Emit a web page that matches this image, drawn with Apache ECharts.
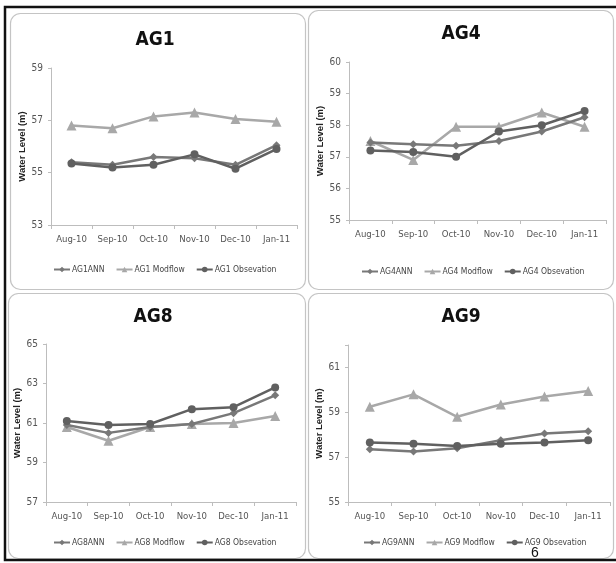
<!DOCTYPE html>
<html><head><meta charset="utf-8">
<script src="https://cdn.jsdelivr.net/npm/echarts@6/dist/echarts.min.js"></script>
<style>html,body{margin:0;padding:0;background:#fff}#c{width:616px;height:563px}</style>
</head><body><div id="c"></div>
<script>
const months = ['Aug-10','Sep-10','Oct-10','Nov-10','Dec-10','Jan-11'];

const ag1ANN = [55.4, 55.3, 55.6, 55.55, 55.3, 56.05];
const ag1Modflow = [56.8, 56.7, 57.15, 57.3, 57.05, 56.95];
const ag1Obs = [55.35, 55.2, 55.3, 55.7, 55.15, 55.9];

const ag4ANN = [57.45, 57.4, 57.35, 57.5, 57.8, 58.25];
const ag4Modflow = [57.5, 56.9, 57.95, 57.95, 58.4, 57.95];
const ag4Obs = [57.2, 57.15, 57.0, 57.8, 58.0, 58.45];

const ag8ANN = [60.9, 60.5, 60.8, 60.95, 61.5, 62.4];
const ag8Modflow = [60.8, 60.1, 60.8, 60.95, 61.0, 61.35];
const ag8Obs = [61.1, 60.9, 60.95, 61.7, 61.8, 62.8];

const ag9ANN = [57.35, 57.25, 57.4, 57.75, 58.05, 58.15];
const ag9Modflow = [59.25, 59.8, 58.8, 59.35, 59.7, 59.95];
const ag9Obs = [57.65, 57.6, 57.5, 57.6, 57.65, 57.75];

const panels = [
  {name:'AG1', ann:ag1ANN, mod:ag1Modflow, obs:ag1Obs, min:53, max:59, interval:2, hideMax:false,
   grid:{left:51, top:68, width:246, height:157}, title:[155,31], legend:[53,265]},
  {name:'AG4', ann:ag4ANN, mod:ag4Modflow, obs:ag4Obs, min:55, max:60, interval:1, hideMax:false,
   grid:{left:349, top:62, width:257, height:158}, title:[461,25], legend:[361,267]},
  {name:'AG8', ann:ag8ANN, mod:ag8Modflow, obs:ag8Obs, min:57, max:65, interval:2, hideMax:false,
   grid:{left:46, top:344, width:250, height:158}, title:[153,308], legend:[53,538]},
  {name:'AG9', ann:ag9ANN, mod:ag9Modflow, obs:ag9Obs, min:55, max:62, interval:2, hideMax:true,
   grid:{left:348, top:345, width:262, height:157}, title:[461,308], legend:[363,538]}
];

const FONT = '"DejaVu Sans Condensed", "Liberation Sans", Arial, sans-serif';
const cANN = '#787878', cMod = '#a8a8a8', cObs = '#606060';

const option = {
  animation:false,
  backgroundColor:'#fff',
  title:[], grid:[], xAxis:[], yAxis:[], legend:[], series:[],
  graphic:[]
};

option.graphic.push({type:'polyline', shape:{points:[[616,7],[5,7],[5,560],[616,560]]},
  style:{stroke:'#111', lineWidth:2.5, fill:null}, z:10});
[[10,13,295,276],[308,10,305,279],[8,293,297,265],[308,293,305,265]].forEach(b=>{
  option.graphic.push({type:'rect', shape:{x:b[0]+0.5,y:b[1]+0.5,width:b[2],height:b[3],r:10},
    style:{stroke:'#c4c4c4', lineWidth:1.2, fill:null}, z:1});
});
option.graphic.push({type:'text', left:531, top:546, style:{text:'6', font:'14px "Liberation Sans", Arial', fill:'#111'}, z:5});

panels.forEach((p,i)=>{
  option.title.push({text:p.name, left:p.title[0], top:p.title[1], textAlign:'center', padding:0,
    textStyle:{fontFamily:FONT, fontWeight:'bold', fontSize:19, color:'#111'}});
  option.grid.push(Object.assign({containLabel:false}, p.grid));
  option.xAxis.push({type:'category', gridIndex:i, data:months, boundaryGap:true,
    axisLine:{lineStyle:{color:'#bdbdbd', width:1}},
    axisTick:{show:true, length:4, lineStyle:{color:'#bdbdbd'}},
    axisLabel:{interval:0, fontFamily:FONT, fontSize:9.5, color:'#555', margin:10}});
  option.yAxis.push({type:'value', gridIndex:i, min:p.min, max:p.max, interval:p.interval,
    name:'Water Level (m)', nameLocation:'middle', nameGap:23, nameRotate:90,
    nameTextStyle:{fontFamily:'"Liberation Sans", Arial, sans-serif', fontWeight:'bold', fontSize:9.5, color:'#222'},
    axisLine:{show:true, lineStyle:{color:'#bdbdbd', width:1}},
    axisTick:{show:true, length:3, lineStyle:{color:'#bdbdbd'}},
    splitLine:{show:false},
    axisLabel:{fontFamily:FONT, fontSize:10, color:'#555', margin:8,
      formatter: v => (p.hideMax && v===p.max) ? '' : v}});
  const nANN = p.name + 'ANN', nMod = p.name + ' Modflow', nObs = p.name + ' Obsevation';
  option.legend.push({left:p.legend[0], top:p.legend[1], width:300, padding:0, itemWidth:16, itemHeight:7, itemGap:11,
    data:[nANN, nMod, nObs],
    textStyle:{fontFamily:FONT, fontSize:8.5, color:'#444', padding:[0,0,0,-3]}});
  option.series.push(
    {name:nANN, type:'line', xAxisIndex:i, yAxisIndex:i, data:p.ann, symbol:'diamond', symbolSize:8,
      lineStyle:{color:cANN, width:2.5}, itemStyle:{color:cANN}, z:3},
    {name:nMod, type:'line', xAxisIndex:i, yAxisIndex:i, data:p.mod, symbol:'triangle', symbolSize:10,
      lineStyle:{color:cMod, width:2.5}, itemStyle:{color:cMod}, z:2},
    {name:nObs, type:'line', xAxisIndex:i, yAxisIndex:i, data:p.obs, symbol:'circle', symbolSize:8,
      lineStyle:{color:cObs, width:2.5}, itemStyle:{color:cObs}, z:4}
  );
});

const chart = echarts.init(document.getElementById('c'), null, {renderer:'canvas'});
chart.setOption(option);
</script>
</body></html>
